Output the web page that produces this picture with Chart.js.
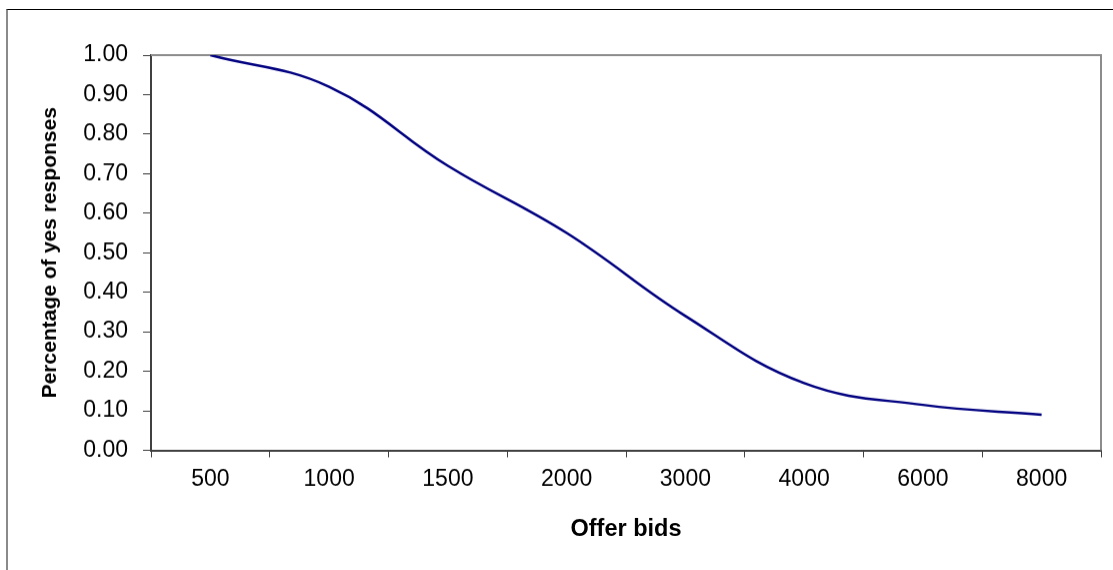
<!DOCTYPE html>
<html>
<head>
<meta charset="utf-8">
<script src="https://cdn.jsdelivr.net/npm/chart.js@4/dist/chart.umd.min.js"></script>
<style>
    html, body { margin: 0; padding: 0; background: #fff; overflow: hidden; }
    #marco { position: absolute; left: 6px; top: 9px; width: 1200px; height: 700px; border-top: 1px solid #000; border-left: 2px solid #8a8a8a; }
    #caja { position: absolute; left: 0; top: 0; width: 1113px; height: 570px; }
</style>
</head>
<body>
<div id="marco"></div>
<div id="caja"><canvas id="grafica"></canvas></div>
<script>
const ofertas = ["500", "1000", "1500", "2000", "3000", "4000", "6000", "8000"];
const respuestasSi = [1.00, 0.92, 0.72, 0.55, 0.34, 0.17, 0.115, 0.09];
const tituloX = "Offer bids";
const tituloY = "Percentage of yes responses";

const fuente = "'Liberation Sans', Arial, sans-serif";

// borde gris del área de trazado (los ejes se dibujan encima)
const bordeArea = {
    id: "bordeArea",
    beforeDatasetsDraw(chart) {
        const { ctx, chartArea: a } = chart;
        ctx.save();
        ctx.strokeStyle = "#8c8c8c";
        ctx.lineWidth = 2;
        ctx.beginPath();
        ctx.moveTo(a.left, a.top);
        ctx.lineTo(a.right, a.top);
        ctx.lineTo(a.right, a.bottom);
        ctx.stroke();
        ctx.restore();
    },
};

const ctx = document.getElementById("grafica");
const grafica = new Chart(ctx, {
    type: "line",
    data: {
        labels: ofertas,
        datasets: [
            {
                data: respuestasSi,
                borderColor: "#000080",
                borderWidth: 2.5,
                pointRadius: 0,
                tension: 0.4,
                fill: false,
            },
        ],
    },
    options: {
        responsive: false,
        animation: false,
        devicePixelRatio: 1,
        layout: { padding: { top: 55, right: 12, bottom: 0, left: 0 } },
        plugins: { legend: { display: false }, tooltip: { enabled: false } },
        scales: {
            x: {
                offset: true,
                grid: { offset: true, drawOnChartArea: false, drawTicks: true, tickLength: 7, color: "#404040", lineWidth: 1 },
                border: { color: "#404040", width: 2 },
                ticks: { color: "#000", padding: 8, maxRotation: 0, font: { family: fuente, size: 23 } },
                title: { display: true, text: tituloX, color: "#000", padding: { top: 0, bottom: 14 }, font: { family: fuente, size: 23.5, weight: "bold" } },
                afterFit(eje) { eje.height = 107; },
            },
            y: {
                min: 0,
                max: 1,
                grid: { drawOnChartArea: false, drawTicks: true, tickLength: 8, color: "#404040", lineWidth: 1 },
                border: { color: "#404040", width: 2 },
                ticks: { stepSize: 0.1, color: "#000", padding: 15, font: { family: fuente, size: 23 }, callback: (v) => v.toFixed(2) },
                title: { display: true, text: tituloY, color: "#000", padding: { top: 38, bottom: 0 }, font: { family: fuente, size: 21, weight: "bold" } },
                afterFit(eje) { eje.width = 151; },
            },
        },
    },
    plugins: [bordeArea],
});
ctx.width = 1113;
ctx.height = 570;
grafica.resize(1113, 570);
</script>
</body>
</html>
